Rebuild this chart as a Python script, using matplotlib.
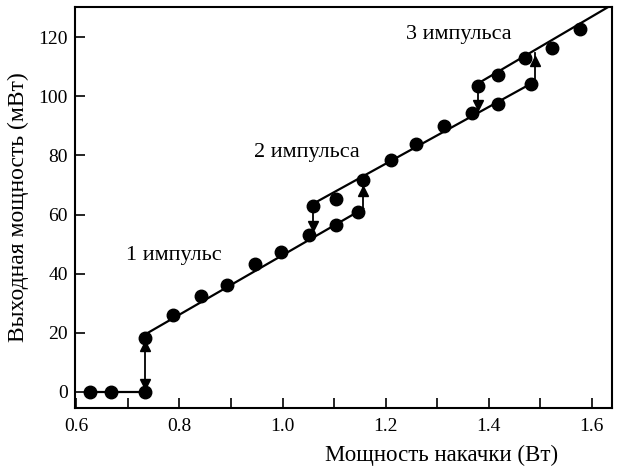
"""Output power vs pump power with pulse-number hysteresis."""

import matplotlib.pyplot as plt
from matplotlib.ticker import MultipleLocator

plt.rcParams["font.family"] = ["Liberation Serif", "DejaVu Serif"]

# measured points
pump_w = [0.627, 0.668, 0.734, 0.734, 0.787, 0.841, 0.893, 0.946, 0.998, 1.051,
          1.060, 1.103, 1.103, 1.146, 1.156, 1.210, 1.260, 1.313, 1.367, 1.380,
          1.418, 1.418, 1.471, 1.482, 1.524, 1.578]
out_mw = [0.0, 0.0, 0.0, 18.1, 26.1, 32.3, 36.2, 43.4, 47.4, 52.9,
          63.0, 65.4, 56.6, 60.7, 71.8, 78.4, 83.9, 89.8, 94.5, 103.5,
          107.2, 97.3, 112.9, 104.2, 116.4, 122.6]

# branch lines (x pairs, y pairs)
branch_x = [(0.627, 0.734), (0.734, 1.157), (1.060, 1.490), (1.380, 1.640)]
branch_y = [(0.0, 0.0), (19.5, 62.0), (63.7, 105.0), (104.4, 131.0)]

# vertical transitions: x, y from, y to
jump_x = [0.734, 1.157, 1.060, 1.490, 1.380]
jump_y0 = [0.0, 62.0, 63.0, 105.0, 103.5]
jump_y1 = [18.0, 70.5, 53.5, 114.5, 94.5]
# arrow heads: x, y of tip, direction
head_x = [0.734, 0.734, 1.157, 1.060, 1.490, 1.380]
head_y = [15.5, 2.5, 68.0, 56.0, 112.0, 97.0]
head_dir = ["^", "v", "^", "v", "^", "v"]

labels = ["1 импульс", "2 импульса", "3 импульса"]
label_x = [0.697, 0.944, 1.239]
label_y = [46.1, 81.0, 121.0]

fig = plt.figure(figsize=(6.19, 4.68), dpi=100)
ax = fig.add_axes([0.121, 0.128, 0.868, 0.857])

for xs, ys in zip(branch_x, branch_y):
    ax.plot(xs, ys, color="black", linewidth=1.6, zorder=2)
for x, y0, y1 in zip(jump_x, jump_y0, jump_y1):
    ax.plot([x, x], [y0, y1], color="black", linewidth=1.3, zorder=2)
for x, y, m in zip(head_x, head_y, head_dir):
    ax.plot(x, y, marker=m, color="black", markersize=7, linestyle="none", zorder=3)

ax.plot(pump_w, out_mw, "o", color="black", markersize=9, zorder=4)

for text, x, y in zip(labels, label_x, label_y):
    ax.text(x, y, text, fontsize=16, ha="left", va="center")

ax.set_xlim(0.597, 1.64)
ax.set_ylim(-5.5, 130.2)
ax.xaxis.set_major_locator(MultipleLocator(0.2))
ax.xaxis.set_minor_locator(MultipleLocator(0.1))
ax.yaxis.set_major_locator(MultipleLocator(20))
ax.xaxis.set_major_formatter(plt.FuncFormatter(lambda v, _: f"{v:.1f}"))
ax.tick_params(axis="both", which="both", direction="in", labelsize=14,
               top=False, right=False, width=1.2)
ax.tick_params(axis="x", which="major", length=7, pad=7)
ax.tick_params(axis="y", which="major", length=7, pad=5)
ax.tick_params(axis="x", which="minor", length=7)
for spine in ax.spines.values():
    spine.set_linewidth(1.5)

ax.set_xlabel("Мощность накачки (Вт)", fontsize=16.5, x=0.683, labelpad=7)
ax.set_ylabel("Выходная мощность (мВт)", fontsize=17, labelpad=7)

fig.savefig("out.png", dpi=100)
